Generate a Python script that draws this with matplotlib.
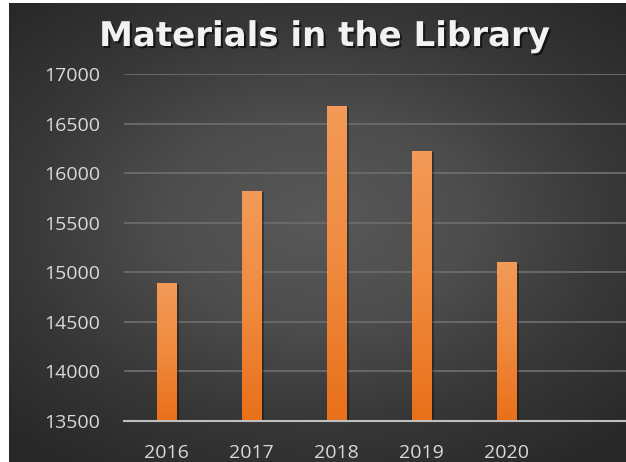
import numpy as np
import matplotlib
matplotlib.use("Agg")
import matplotlib.pyplot as plt
import matplotlib.patheffects as pe
from matplotlib.colors import LinearSegmentedColormap

# data
years = ['2016', '2017', '2018', '2019', '2020', '']
materials = [14890, 15820, 16680, 16225, 15100, 0]
y_ticks = [13500, 14000, 14500, 15000, 15500, 16000, 16500, 17000]

plt.rcParams['font.family'] = ['Open Sans', 'DejaVu Sans']

fig = plt.figure(figsize=(6.26, 4.62), dpi=100, facecolor='white')

# dark radial background
bg = fig.add_axes([9 / 626, 0, 1 - 9 / 626, 1 - 3 / 462])
bg.set_axis_off()
gx, gy = np.meshgrid(np.linspace(-1, 1, 400), np.linspace(-1, 1, 300))
r = np.sqrt((gx * 0.9) ** 2 + ((gy + 0.05) * 1.0) ** 2)
bgmap = LinearSegmentedColormap.from_list('bg', ['#585858', '#4e4e4e', '#383838', '#282828'])
bg.imshow(np.clip(r / 1.3, 0, 1), cmap=bgmap, aspect='auto', vmin=0, vmax=1,
          extent=[0, 1, 0, 1])
bg.set_xlim(0, 1)
bg.set_ylim(0, 1)

ax = fig.add_axes([124 / 626, 1 - 420.7 / 462, 510 / 626, (420.7 - 74) / 462])
ax.patch.set_alpha(0)

x = np.arange(len(years))
bars = ax.bar(x, np.array(materials) - 13500, bottom=13500, width=0.224,
              color='#ee7b2c', zorder=3,
              path_effects=[pe.SimplePatchShadow(offset=(2, -1), shadow_rgbFace='black', alpha=0.35),
                            pe.Normal()])

# gradient on each bar
barmap = LinearSegmentedColormap.from_list('bar', ['#e9701a', '#f08a3e', '#f39a58'])
grad = np.linspace(0, 1, 100).reshape(-1, 1)
for b in bars:
    if b.get_height() <= 0:
        continue
    x0, y0 = b.get_x(), b.get_y()
    im = ax.imshow(grad, cmap=barmap, origin='lower', aspect='auto', zorder=4,
                   extent=[x0, x0 + b.get_width(), y0, y0 + b.get_height()])
    im.set_clip_path(b)

ax.set_xlim(-0.5, 5.5)
ax.set_ylim(13500, 17000)
ax.set_yticks(y_ticks)
ax.set_xticks(x)
ax.set_xticklabels(years)
ax.grid(axis='y', color='#6c6c6c', linewidth=1.3, zorder=0)
ax.tick_params(length=0, labelsize=14, colors='#d9d9d9')
ax.tick_params(axis='y', pad=17)
ax.tick_params(axis='x', pad=17)
for s in ['top', 'right', 'left']:
    ax.spines[s].set_visible(False)
ax.spines['bottom'].set_color('#bfbfbf')
ax.spines['bottom'].set_linewidth(1.5)
ax.spines['bottom'].set_zorder(5)

fig.text(324.5 / 626, 1 - 46 / 462, 'Materials in the Library', ha='center',
         va='baseline', fontsize=24.5, fontweight='bold', color='#f2f2f2',
         family='DejaVu Sans',
         path_effects=[pe.withSimplePatchShadow(offset=(1.5, -1.5), shadow_rgbFace='black', alpha=0.6)])

fig.savefig('out.png', dpi=100, facecolor='white')
